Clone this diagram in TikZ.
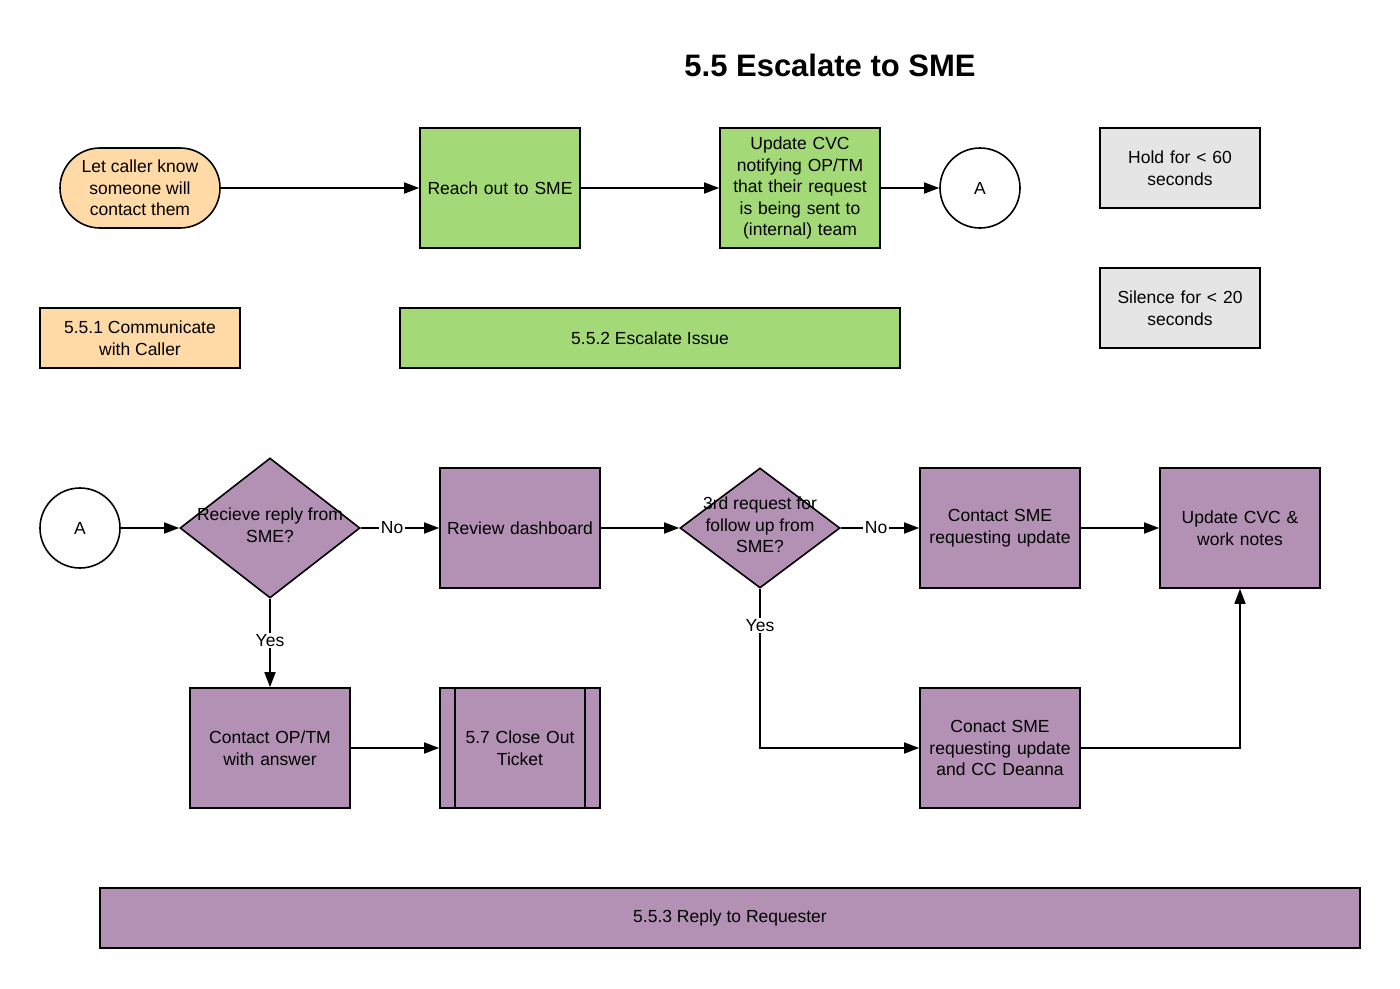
\documentclass[tikz,border=0pt]{standalone}
\usepackage{fontspec}
\setmainfont{Liberation Sans}
\usetikzlibrary{arrows.meta,shapes.geometric,positioning}
\definecolor{peach}{RGB}{255,218,166}
\definecolor{lgreen}{RGB}{163,217,119}
\definecolor{lgray}{RGB}{229,229,229}
\definecolor{purp}{RGB}{179,145,181}
\tikzset{
  base/.style={draw=black, line width=1.6pt, inner sep=0pt, align=center, font=\fontsize{17.5}{21.5}\selectfont, text=black},
  box/.style={base, rectangle, minimum width=160pt, minimum height=120pt, text width=150pt},
  gbox/.style={box, fill=lgreen},
  pbox/.style={box, fill=purp},
  note/.style={base, rectangle, fill=lgray, minimum width=160pt, minimum height=80pt, text width=150pt},
  lane/.style={base, rectangle, minimum height=60pt},
  term/.style={base, rounded rectangle, fill=peach, minimum width=160pt, minimum height=80pt},
  conn/.style={base, circle, fill=white, minimum size=80pt},
  dia/.style={base, diamond, fill=purp},
  txt/.style={inner sep=0pt, align=center, font=\fontsize{17.5}{21.5}\selectfont, text=black},
  arr/.style={line width=1.6pt, -{Triangle[length=15pt,width=11pt]}},
  lbl/.style={fill=white, inner sep=1.5pt, font=\fontsize{17.5}{21.5}\selectfont, text=black}
}
\usetikzlibrary{shapes.misc}
\begin{document}
\begin{tikzpicture}[x=1pt,y=-1pt]
\useasboundingbox[fill=white] (0,0) rectangle (1400,988);
% title
\node[font=\fontsize{31}{36}\selectfont\bfseries] (title) at (830,65) {5.5 Escalate to SME};
% top row
\node[term] (let) at (140,188) {Let caller know\\someone will\\contact them};
\node[gbox] (reach) at (500,188) {Reach out to SME};
\node[gbox] (upd) at (800,188) {Update CVC\\notifying OP/TM\\that their request\\is being sent to\\(internal) team};
\node[conn] (a1) at (980,188) {A};
\node[note] (hold) at (1180,168) {Hold for < 60\\seconds};
\node[note] (sil) at (1180,308) {Silence for < 20\\seconds};
\node[lane, fill=peach, minimum width=200pt] (l1) at (140,338) {5.5.1 Communicate\\with Caller};
\node[lane, fill=lgreen, minimum width=500pt] (l2) at (650,338) {5.5.2 Escalate Issue};
\draw[arr] (let) -- (reach);
\draw[arr] (reach) -- (upd);
\draw[arr] (upd) -- (a1);
% bottom
\node[conn] (a2) at (80,528) {A};
\node[dia, minimum width=180pt, minimum height=140pt] (d1) at (270,528) {};
\node[txt] (d1t) at (270,525) {Recieve reply from\\SME?};
\node[pbox] (rev) at (520,528) {Review dashboard};
\node[dia, minimum width=160pt, minimum height=120pt] (d2) at (760,528) {};
\node[txt] (d2t) at (760,525) {3rd request for\\follow up from\\SME?};
\node[pbox] (csme) at (1000,528) {Contact SME\\requesting update};
\node[pbox] (ucvc) at (1240,528) {Update CVC \&\\work notes};
\node[pbox] (cop) at (270,748) {Contact OP/TM\\with answer};
\node[pbox] (close) at (520,748) {5.7 Close Out\\Ticket};
\draw[line width=1.6pt] ([xshift=16pt]close.north west) -- ([xshift=16pt]close.south west);
\draw[line width=1.6pt] ([xshift=-16pt]close.north east) -- ([xshift=-16pt]close.south east);
\node[pbox] (cdea) at (1000,748) {Conact SME\\requesting update\\and CC Deanna};
\node[lane, fill=purp, minimum width=1260pt] (l3) at (730,918) {5.5.3 Reply to Requester};
\draw[arr] (a2) -- (d1);
\draw[arr] (d1) -- node[lbl, pos=0.4] {No} (rev);
\draw[arr] (d1) -- node[lbl, pos=0.47] {Yes} (cop);
\draw[arr] (rev) -- (d2);
\draw[arr] (d2) -- node[lbl, pos=0.45] {No} (csme);
\draw[arr] (csme) -- (ucvc);
\draw[arr] (cop) -- (close);
\draw[arr] (d2.south) -- node[lbl, pos=0.23] {Yes} (d2.south |- cdea.west) -- (cdea.west);
\draw[arr] (cdea.east) -- (ucvc.south |- cdea.east) -- (ucvc.south);
\end{tikzpicture}
\end{document}
